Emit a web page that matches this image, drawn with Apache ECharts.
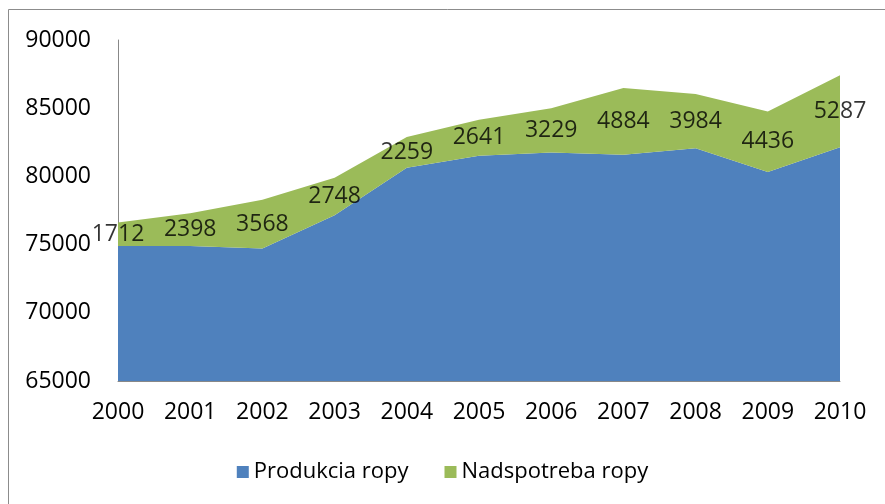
<!DOCTYPE html>
<html>
<head>
	<meta charset="UTF-8">
	<title>Produkcia ropy</title>
	<script src="https://cdn.jsdelivr.net/npm/echarts@6/dist/echarts.min.js"></script>
	<style>
		html, body { margin: 0; padding: 0; background: #fff; }
		#main { width: 885px; height: 504px; }
	</style>
</head>
<body>
<div id="main"></div>
<script>
	// roky a hodnoty odčítané z grafu
	var years = ['2000','2001','2002','2003','2004','2005','2006','2007','2008','2009','2010'];
	var produkcia = [74900, 74900, 74720, 77150, 80630, 81510, 81760, 81590, 82060, 80330, 82130];
	var nadspotreba = [1712, 2398, 3568, 2748, 2259, 2641, 3229, 4884, 3984, 4436, 5287];

	var font = '"Open Sans", "DejaVu Sans", sans-serif';

	// stred zeleného pásu - len kvôli umiestneniu popisiek
	var labelPoints = [];
	for (var i = 0; i < years.length; i++) {
		labelPoints.push(produkcia[i] + nadspotreba[i] / 2);
	}

	var myChart = echarts.init(document.getElementById('main'));
	var option = {
		animation: false,
		backgroundColor: '#fff',
		graphic: [{
			type: 'rect',
			shape: { x: 8.5, y: 9.5, width: 900, height: 520 },
			style: { fill: 'none', stroke: '#8c8c8c', lineWidth: 1 },
			silent: true
		}],
		legend: {
			bottom: 16,
			left: 'center',
			icon: 'rect',
			itemWidth: 12,
			itemHeight: 12,
			itemGap: 36,
			textStyle: { fontFamily: font, fontSize: 22, color: '#000' },
			data: ['Produkcia ropy', 'Nadspotreba ropy']
		},
		grid: { left: 118, right: 45, top: 40, bottom: 123 },
		xAxis: {
			type: 'category',
			boundaryGap: false,
			data: years,
			axisLine: { lineStyle: { color: '#888' } },
			axisTick: { show: false },
			axisLabel: { fontFamily: font, fontSize: 23, color: '#000', margin: 20 }
		},
		yAxis: {
			type: 'value',
			min: 65000,
			max: 90000,
			interval: 5000,
			splitLine: { show: false },
			axisLine: { show: true, lineStyle: { color: '#888' } },
			axisTick: { show: false },
			axisLabel: {
				fontFamily: font, fontSize: 23, color: '#000', margin: 27,
				formatter: function (v) { return String(v); }
			}
		},
		series: [
			{
				name: 'Produkcia ropy',
				type: 'line',
				stack: 'spolu',
				data: produkcia,
				symbol: 'none',
				lineStyle: { width: 0 },
				itemStyle: { color: '#4F81BD' },
				areaStyle: { color: '#4F81BD', opacity: 1 }
			},
			{
				name: 'Nadspotreba ropy',
				type: 'line',
				stack: 'spolu',
				data: nadspotreba,
				symbol: 'none',
				lineStyle: { width: 0 },
				itemStyle: { color: '#9BBB59' },
				areaStyle: { color: '#9BBB59', opacity: 1 }
			},
			{
				name: 'popisky',
				type: 'scatter',
				data: labelPoints,
				symbolSize: 0,
				silent: true,
				label: {
					show: true,
					position: 'inside',
					fontFamily: font,
					fontSize: 23,
					color: '#000',
					formatter: function (p) { return nadspotreba[p.dataIndex]; }
				},
				z: 5
			}
		]
	};
	myChart.setOption(option);
</script>
</body>
</html>
